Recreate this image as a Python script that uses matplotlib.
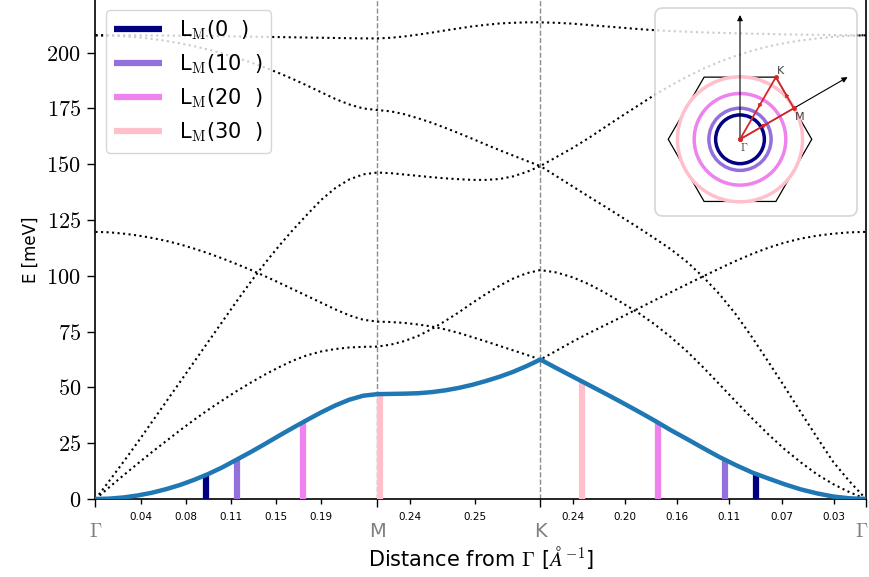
import numpy as np
import matplotlib.pyplot as plt
from matplotlib.patches import FancyBboxPatch, Circle, Polygon
from matplotlib.ticker import FuncFormatter
from matplotlib.transforms import ScaledTranslation

plt.rcParams['mathtext.fontset'] = 'cm'
plt.rcParams['font.family'] = ['DejaVu Sans']

# --- path through the Brillouin zone (lengths in 1/A) ---
GM = 0.2358
MK = 0.1362
KG = 0.2723

t_gm = np.linspace(0, 1, 21)
t_mk = np.linspace(0, 1, 13)[1:]
t_kg = np.linspace(0, 1, 21)[1:]
q = np.concatenate([t_gm * GM, GM + t_mk * MK, GM + MK + t_kg * KG])

# --- phonon branches [meV] on the q grid: G-M (21) | M-K (12) | K-G (20) ---
za = [0, 0.18, 0.7, 1.6, 2.8, 4.4, 6.3, 8.6, 11.2, 14.2, 17.6, 21.0, 24.6, 28.3, 31.9,
      35.4, 38.8, 41.9, 44.5, 46.3, 47.0,
      47.1, 47.2, 47.4, 47.9, 48.7, 49.8, 51.2, 52.9, 54.8, 57.0, 59.6, 62.5,
      58.6, 54.8, 51.0, 47.2, 43.3, 39.3, 35.2, 30.9, 26.9, 22.8, 18.8, 15.2, 11.9, 9.2,
      6.6, 4.3, 2.5, 1.1, 0.3, 0]
ta = [0, 5.4, 10.7, 15.9, 21.0, 25.9, 30.8, 35.5, 40.0, 44.2, 48.3, 52.1, 55.7, 59.0, 62.0,
      64.4, 66.1, 67.2, 67.9, 68.2, 68.3,
      69.2, 70.8, 73.1, 76.2, 79.8, 83.7, 87.9, 91.9, 95.6, 98.8, 101.2, 102.6,
      101.5, 99.3, 96.2, 92.3, 88.0, 83.5, 78.4, 72.6, 66.2, 59.0, 51.4, 43.7, 36.2, 29.0,
      22.3, 16.4, 11.0, 6.6, 3.0, 0]
la = [0, 8.3, 16.8, 25.5, 34.5, 43.5, 52.5, 61.5, 70.5, 79.5, 88.5, 97.2, 105.5, 113.3, 120.6,
      127.4, 134.0, 139.3, 143.2, 145.5, 146.3,
      146.0, 145.4, 144.8, 144.2, 143.7, 143.3, 143.0, 143.0, 143.4, 144.6, 146.6, 149.2,
      144.6, 140.0, 135.4, 130.9, 126.3, 121.7, 116.9, 112.0, 106.3, 99.5, 91.8, 82.8, 72.5,
      61.5, 50.3, 38.8, 27.5, 16.5, 7.8, 0]
zo = [119.7, 119.5, 118.9, 118.1, 117.0, 115.7, 114.1, 112.2, 110.1, 107.8, 105.3, 102.7,
      99.9, 97.0, 94.0, 91.0, 88.0, 85.0, 82.3, 80.3, 79.5,
      79.3, 78.9, 78.2, 77.3, 76.0, 74.4, 72.5, 70.6, 68.6, 66.6, 64.6, 62.5,
      66.5, 70.6, 74.4, 78.0, 81.6, 85.3, 89.0, 92.6, 96.2, 99.8, 103.3, 106.7, 109.8,
      112.6, 114.9, 116.7, 118.0, 118.9, 119.5, 119.7]
to = [207.8, 207.7, 207.4, 206.9, 206.2, 205.3, 204.2, 202.9, 201.4, 199.7, 197.8, 195.7,
      193.4, 190.9, 188.2, 185.3, 182.3, 179.3, 176.8, 175.0, 174.3,
      173.7, 172.4, 170.6, 168.6, 166.3, 163.9, 161.4, 158.8, 156.3, 153.9, 151.5, 149.2,
      153.3, 157.4, 161.9, 166.8, 171.6, 176.3, 181.0, 185.3, 189.2, 192.8, 195.9, 198.6,
      200.9, 202.8, 204.3, 205.5, 206.4, 207.1, 207.6, 207.8]
lo = [207.8, 207.8, 207.8, 207.8, 207.7, 207.7, 207.6, 207.6, 207.5, 207.4, 207.3, 207.2,
      207.1, 207.0, 206.9, 206.8, 206.7, 206.6, 206.5, 206.4, 206.4,
      206.7, 207.3, 208.1, 209.0, 210.0, 210.9, 211.8, 212.5, 213.1, 213.4, 213.6, 213.6,
      213.4, 213.0, 212.4, 211.8, 211.2, 210.6, 210.1, 209.7, 209.4, 209.1, 208.9, 208.7,
      208.5, 208.4, 208.2, 208.1, 208.0, 207.9, 207.8, 207.8]

# --- selected modes: positions along the path and |q| of the rings ---
mode_index = [0, 10, 20, 30]
mode_colors = ['navy', 'mediumpurple', 'violet', 'pink']
bar_q_left = [0.0924, 0.1181, 0.1738, 0.2375]
bar_q_right = [0.5520, 0.5264, 0.4706, 0.4071]
ring_radius = [0.0924, 0.1180, 0.1738, 0.2372]

# --- axis ticks ---
sym_q = [0, GM, GM + MK, GM + MK + KG]
sym_labels = [r'$\Gamma$', 'M', 'K', r'$\Gamma$']
minor_q = [0.0377, 0.0754, 0.1131, 0.1508, 0.1885, 0.2630, 0.3173,
           0.3995, 0.4428, 0.4865, 0.5300, 0.5738, 0.6175]
minor_labels = ['0.04', '0.08', '0.11', '0.15', '0.19', '0.24', '0.25',
                '0.24', '0.20', '0.16', '0.11', '0.07', '0.03']

W, H = 870, 577
fig = plt.figure(figsize=(W / 100, H / 100), dpi=100)
ax = fig.add_axes([95.5 / W, (H - 499) / H, 770.5 / W, 499 / H])

for x in sym_q[1:3]:
    ax.axvline(x, color='0.55', ls='--', lw=1, zorder=1)

for branch in [ta, la, zo, to, lo]:
    ax.plot(q, branch, ls=':', color='k', lw=1.5, zorder=2)

for i in range(len(mode_index)):
    xs = [bar_q_left[i], bar_q_right[i]]
    ax.vlines(xs, 0, np.interp(xs, q, za), colors=mode_colors[i], lw=4.5, zorder=3,
              label=r'L$_\mathrm{M}$(' + f'{mode_index[i]}  )')

ax.plot(q, za, color='#1f77b4', lw=3.2, zorder=4, solid_joinstyle='round')

ax.set_xlim(0, q[-1])
ax.set_ylim(0, 499 / 2.2315)

ax.set_xticks(sym_q)
ax.set_xticklabels(sym_labels, color='grey', fontsize=14)
ax.set_xticks(minor_q, minor=True)
ax.set_xticklabels(minor_labels, minor=True, fontsize=7.5)
ax.tick_params(axis='x', which='major', length=5.5, width=1, pad=11)
ax.tick_params(axis='x', which='minor', length=3.5, width=1, pad=6)
# keep the closing Gamma inside the canvas
last = ax.get_xticklabels()[-1]
last.set_transform(last.get_transform() + ScaledTranslation(-3 / 72, 0, fig.dpi_scale_trans))

ax.set_yticks(np.arange(0, 201, 25))
ax.yaxis.set_major_formatter(FuncFormatter(lambda v, p: f'${v:.0f}$'))
ax.tick_params(axis='y', length=5.5, width=1, pad=5, labelsize=16)

ax.spines['top'].set_visible(False)
for s in ['left', 'bottom', 'right']:
    ax.spines[s].set_linewidth(1.2)

ax.set_xlabel(r'Distance from $\Gamma$ [$\AA^{-1}$]', fontsize=15, labelpad=2)
ax.set_ylabel('E [meV]', fontsize=12, labelpad=5)

ax.legend(loc='upper left', fontsize=15, framealpha=0.8, handlelength=2.3)

# --- inset: Brillouin zone with the rings of selected modes ---
scale = 263.6  # px per 1/A in the inset
gx, gy = 740, 139.3
ix0, iy0, ix1, iy1 = 654, 7, 858, 217
axi = fig.add_axes([ix0 / W, (H - iy1) / H, (ix1 - ix0) / W, (iy1 - iy0) / H])
axi.set_xlim(-(gx - ix0) / scale, (ix1 - gx) / scale)
axi.set_ylim(-(iy1 - gy) / scale, (gy - iy0) / scale)
axi.axis('off')

p = 1 / scale
xl, yl = axi.get_xlim(), axi.get_ylim()
frame = FancyBboxPatch((xl[0] + p, yl[0] + p), xl[1] - xl[0] - 2 * p, yl[1] - yl[0] - 2 * p,
                       boxstyle='round,pad=0,rounding_size=0.03',
                       fc='white', ec='0.8', lw=1.2, alpha=0.8, clip_on=False, zorder=0)
axi.add_patch(frame)

ang = np.radians(np.arange(0, 360, 60))
hexagon = Polygon(np.c_[KG * np.cos(ang), KG * np.sin(ang)], closed=True,
                  fill=False, ec='k', lw=0.9, zorder=1)
axi.add_patch(hexagon)

for r, c in zip(ring_radius, mode_colors):
    axi.add_patch(Circle((0, 0), r, fill=False, ec=c, lw=2.5, zorder=2))

for a in [90, 30]:
    b = 2 * GM
    axi.annotate('', xy=(b * np.cos(np.radians(a)), b * np.sin(np.radians(a))), xytext=(0, 0),
                 arrowprops=dict(arrowstyle='-|>', color='k', lw=0.8, mutation_scale=8,
                                 shrinkA=0, shrinkB=0), zorder=3)

pG = np.array([0.0, 0.0])
pM = GM * np.array([np.cos(np.radians(30)), np.sin(np.radians(30))])
pK = KG * np.array([np.cos(np.radians(60)), np.sin(np.radians(60))])
path = np.array([pG, pM, pK, pG])
axi.plot(path[:, 0], path[:, 1], color='#d62728', lw=1.3, marker='o', ms=2.5, zorder=4)
for a0, a1 in zip(path[:-1], path[1:]):
    mid = (a0 + a1) / 2
    axi.annotate('', xy=mid, xytext=mid - 0.05 * (a1 - a0),
                 arrowprops=dict(arrowstyle='-|>', color='#d62728', lw=0.8, mutation_scale=6,
                                 shrinkA=0, shrinkB=0), zorder=4)

axi.annotate('K', pK, xytext=(1, 1), textcoords='offset points', fontsize=8,
             color='0.25', ha='left', va='bottom', zorder=5)
axi.annotate('M', pM, xytext=(1, -3), textcoords='offset points', fontsize=8,
             color='0.25', ha='left', va='top', zorder=5)
axi.annotate(r'$\Gamma$', pG, xytext=(0, -1), textcoords='offset points', fontsize=8,
             color='0.25', ha='left', va='top', zorder=5)

fig.savefig('out.png', dpi=100)
